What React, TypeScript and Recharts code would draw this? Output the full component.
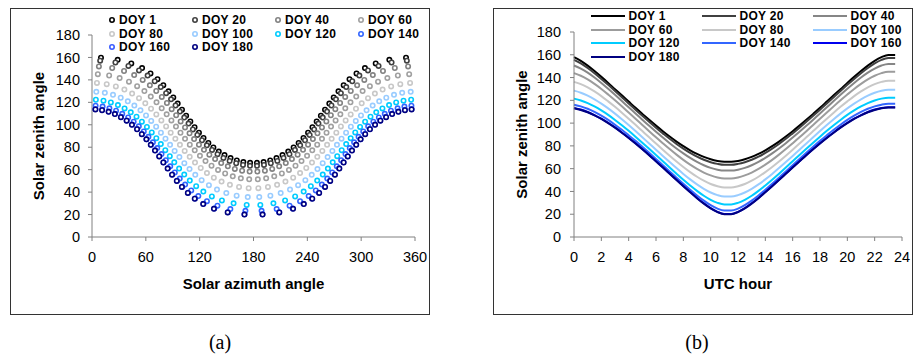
import React from "react";
import { ScatterChart, Scatter, LineChart, Line, XAxis, YAxis } from "recharts";

const doyLabels = ["DOY 1", "DOY 20", "DOY 40", "DOY 60", "DOY 80", "DOY 100", "DOY 120", "DOY 140", "DOY 160", "DOY 180"];

// half-hourly samples, UTC
const hours = [
  0, 0.5, 1, 1.5, 2, 2.5, 3, 3.5, 4, 4.5, 5, 5.5, 6, 6.5, 7, 7.5, 8, 8.5, 9, 9.5, 10, 10.5, 11, 11.5,
  12, 12.5, 13, 13.5, 14, 14.5, 15, 15.5, 16, 16.5, 17, 17.5, 18, 18.5, 19, 19.5, 20, 20.5, 21, 21.5, 22, 22.5, 23, 23.5,
];

// solar zenith angle (deg) per sample
const zenDoy1 = [
  157.9, 154.7, 150.5, 145.7, 140.6, 135.3, 129.8, 124.4, 118.9, 113.4, 108.1, 102.9, 97.8, 92.9, 88.2, 83.8, 79.8, 76.1, 73.0, 70.3, 68.2, 66.8, 66.1,
  66.1, 66.8, 68.2, 70.3, 73.0, 76.1, 79.8, 83.8, 88.2, 92.9, 97.8, 102.9, 108.1, 113.4, 118.9, 124.4, 129.8, 135.3, 140.6, 145.7, 150.5, 154.7, 157.9, 159.8, 159.8,
];
const zenDoy20 = [
  155.5, 152.4, 148.4, 143.8, 138.8, 133.6, 128.2, 122.7, 117.2, 111.8, 106.4, 101.1, 95.9, 91.0, 86.2, 81.7, 77.6, 73.8, 70.5, 67.8, 65.7, 64.2, 63.4,
  63.4, 64.2, 65.7, 67.8, 70.5, 73.8, 77.6, 81.7, 86.2, 91.0, 95.9, 101.1, 106.4, 111.8, 117.2, 122.7, 128.2, 133.6, 138.8, 143.8, 148.4, 152.4, 155.5, 157.1, 157.1,
];
const zenDoy40 = [
  150.6, 147.9, 144.3, 140.0, 135.2, 130.1, 124.8, 119.4, 113.9, 108.5, 103.0, 97.6, 92.4, 87.3, 82.3, 77.7, 73.4, 69.4, 65.9, 63.0, 60.7, 59.1, 58.3,
  58.3, 59.1, 60.7, 63.0, 65.9, 69.4, 73.4, 77.7, 82.3, 87.3, 92.4, 97.6, 103.0, 108.5, 113.9, 119.4, 124.8, 130.1, 135.2, 140.0, 144.3, 147.9, 150.6, 152.0, 152.0,
];
const zenDoy60 = [
  143.9, 141.6, 138.4, 134.4, 130.0, 125.1, 120.0, 114.7, 109.3, 103.9, 98.4, 92.9, 87.5, 82.3, 77.2, 72.3, 67.7, 63.5, 59.8, 56.6, 54.1, 52.3, 51.4,
  51.4, 52.3, 54.1, 56.6, 59.8, 63.5, 67.7, 72.3, 77.2, 82.3, 87.5, 92.9, 98.4, 103.9, 109.3, 114.7, 120.0, 125.1, 130.0, 134.4, 138.4, 141.6, 143.9, 145.1, 145.1,
];
const zenDoy80 = [
  136.2, 134.2, 131.4, 127.8, 123.7, 119.1, 114.3, 109.2, 103.9, 98.5, 93.0, 87.5, 82.1, 76.7, 71.4, 66.3, 61.5, 57.0, 52.9, 49.4, 46.5, 44.6, 43.5,
  43.5, 44.6, 46.5, 49.4, 52.9, 57.0, 61.5, 66.3, 71.4, 76.7, 82.1, 87.5, 93.0, 98.5, 103.9, 109.2, 114.3, 119.1, 123.7, 127.8, 131.4, 134.2, 136.2, 137.3, 137.3,
];
const zenDoy100 = [
  128.5, 126.7, 124.1, 120.9, 117.1, 112.9, 108.3, 103.4, 98.3, 93.0, 87.6, 82.1, 76.7, 71.2, 65.8, 60.5, 55.4, 50.6, 46.2, 42.3, 39.1, 36.8, 35.6,
  35.6, 36.8, 39.1, 42.3, 46.2, 50.6, 55.4, 60.5, 65.8, 71.2, 76.7, 82.1, 87.6, 93.0, 98.3, 103.4, 108.3, 112.9, 117.1, 120.9, 124.1, 126.7, 128.5, 129.4, 129.4,
];
const zenDoy120 = [
  121.5, 119.9, 117.6, 114.6, 111.1, 107.2, 102.8, 98.1, 93.2, 88.1, 82.8, 77.4, 72.0, 66.5, 61.0, 55.6, 50.3, 45.3, 40.5, 36.2, 32.6, 30.0, 28.6,
  28.6, 30.0, 32.6, 36.2, 40.5, 45.3, 50.3, 55.6, 61.0, 66.5, 72.0, 77.4, 82.8, 88.1, 93.2, 98.1, 102.8, 107.2, 111.1, 114.6, 117.6, 119.9, 121.5, 122.3, 122.3,
];
const zenDoy140 = [
  116.2, 114.7, 112.6, 109.8, 106.5, 102.8, 98.6, 94.1, 89.3, 84.4, 79.2, 73.9, 68.5, 63.0, 57.5, 52.1, 46.7, 41.5, 36.5, 31.9, 27.9, 24.9, 23.3,
  23.3, 24.9, 27.9, 31.9, 36.5, 41.5, 46.7, 52.1, 57.5, 63.0, 68.5, 73.9, 79.2, 84.4, 89.3, 94.1, 98.6, 102.8, 106.5, 109.8, 112.6, 114.7, 116.2, 117.0, 117.0,
];
const zenDoy160 = [
  113.3, 111.9, 109.8, 107.1, 103.9, 100.3, 96.2, 91.8, 87.2, 82.3, 77.2, 72.0, 66.6, 61.2, 55.7, 50.2, 44.8, 39.5, 34.3, 29.6, 25.4, 22.1, 20.3,
  20.3, 22.1, 25.4, 29.6, 34.3, 39.5, 44.8, 50.2, 55.7, 61.2, 66.6, 72.0, 77.2, 82.3, 87.2, 91.8, 96.2, 100.3, 103.9, 107.1, 109.8, 111.9, 113.3, 114.0, 114.0,
];
const zenDoy180 = [
  113.0, 111.5, 109.5, 106.8, 103.7, 100.0, 96.0, 91.6, 87.0, 82.1, 77.0, 71.8, 66.4, 61.0, 55.5, 50.0, 44.6, 39.3, 34.1, 29.3, 25.1, 21.9, 20.0,
  20.0, 21.9, 25.1, 29.3, 34.1, 39.3, 44.6, 50.0, 55.5, 61.0, 66.4, 71.8, 77.0, 82.1, 87.0, 91.6, 96.0, 100.0, 103.7, 106.8, 109.5, 111.5, 113.0, 113.7, 113.7,
];

// solar azimuth angle (deg from north) per sample
const aziDoy1 = [
  28.6, 43.8, 55.8, 65.2, 73.0, 79.5, 85.3, 90.6, 95.5, 100.3, 104.9, 109.6, 114.3, 119.2, 124.3, 129.7, 135.3, 141.3, 147.7, 154.4, 161.4, 168.7, 176.2,
  183.8, 191.3, 198.6, 205.6, 212.3, 218.7, 224.7, 230.3, 235.7, 240.8, 245.7, 250.4, 255.1, 259.7, 264.5, 269.4, 274.7, 280.5, 287.0, 294.8, 304.2, 316.2, 331.4, 350.0, 10.0,
];
const aziDoy20 = [
  26.1, 40.6, 52.4, 62.0, 69.9, 76.6, 82.6, 88.1, 93.1, 98.0, 102.8, 107.6, 112.4, 117.4, 122.6, 128.0, 133.8, 139.9, 146.5, 153.4, 160.7, 168.3, 176.1,
  183.9, 191.7, 199.3, 206.6, 213.5, 220.1, 226.2, 232.0, 237.4, 242.6, 247.6, 252.4, 257.2, 262.0, 266.9, 271.9, 277.4, 283.4, 290.1, 298.0, 307.6, 319.4, 333.9, 350.9, 9.1,
];
const aziDoy40 = [
  22.5, 35.7, 47.0, 56.5, 64.5, 71.6, 77.8, 83.5, 88.8, 93.8, 98.8, 103.7, 108.7, 113.8, 119.2, 124.8, 130.8, 137.2, 144.0, 151.4, 159.2, 167.3, 175.7,
  184.3, 192.7, 200.8, 208.6, 216.0, 222.8, 229.2, 235.2, 240.8, 246.2, 251.3, 256.3, 261.2, 266.2, 271.2, 276.5, 282.2, 288.4, 295.5, 303.5, 313.0, 324.3, 337.5, 352.3, 7.7,
];
const aziDoy60 = [
  19.1, 30.8, 41.2, 50.3, 58.4, 65.5, 71.9, 77.7, 83.2, 88.5, 93.6, 98.6, 103.7, 109.0, 114.5, 120.3, 126.5, 133.2, 140.5, 148.4, 156.9, 165.9, 175.2,
  184.8, 194.1, 203.1, 211.6, 219.5, 226.8, 233.5, 239.7, 245.5, 251.0, 256.3, 261.4, 266.4, 271.5, 276.8, 282.3, 288.1, 294.5, 301.6, 309.7, 318.8, 329.2, 340.9, 353.5, 6.5,
];
const aziDoy80 = [
  16.4, 26.6, 36.1, 44.7, 52.4, 59.4, 65.8, 71.7, 77.3, 82.6, 87.7, 92.9, 98.0, 103.3, 108.9, 114.8, 121.2, 128.1, 135.8, 144.4, 153.7, 163.9, 174.6,
  185.4, 196.1, 206.3, 215.6, 224.2, 231.9, 238.8, 245.2, 251.1, 256.7, 262.0, 267.1, 272.3, 277.4, 282.7, 288.3, 294.2, 300.6, 307.6, 315.3, 323.9, 333.4, 343.6, 354.5, 5.5,
];
const aziDoy100 = [
  14.3, 23.4, 32.0, 39.9, 47.2, 54.0, 60.2, 66.0, 71.5, 76.8, 81.9, 87.0, 92.1, 97.4, 102.9, 108.7, 115.1, 122.2, 130.3, 139.3, 149.7, 161.2, 173.6,
  186.4, 198.8, 210.3, 220.7, 229.7, 237.8, 244.9, 251.3, 257.1, 262.6, 267.9, 273.0, 278.1, 283.2, 288.5, 294.0, 299.8, 306.0, 312.8, 320.1, 328.0, 336.6, 345.7, 355.2, 4.8,
];
const aziDoy120 = [
  12.8, 21.0, 28.9, 36.3, 43.2, 49.6, 55.6, 61.2, 66.6, 71.7, 76.7, 81.7, 86.7, 91.7, 97.1, 102.8, 109.0, 116.1, 124.1, 133.6, 144.8, 157.8, 172.4,
  187.6, 202.2, 215.2, 226.4, 235.9, 243.9, 251.0, 257.2, 262.9, 268.3, 273.3, 278.3, 283.3, 288.3, 293.4, 298.8, 304.4, 310.4, 316.8, 323.7, 331.1, 339.0, 347.2, 355.7, 4.3,
];
const aziDoy140 = [
  11.8, 19.4, 26.8, 33.7, 40.3, 46.4, 52.2, 57.7, 62.9, 67.9, 72.7, 77.5, 82.3, 87.2, 92.3, 97.8, 103.8, 110.6, 118.5, 128.1, 139.8, 154.2, 171.0,
  189.0, 205.8, 220.2, 231.9, 241.5, 249.4, 256.2, 262.2, 267.7, 272.8, 277.7, 282.5, 287.3, 292.1, 297.1, 302.3, 307.8, 313.6, 319.7, 326.3, 333.2, 340.6, 348.2, 356.0, 4.0,
];
const aziDoy160 = [
  11.3, 18.6, 25.6, 32.4, 38.7, 44.7, 50.4, 55.7, 60.8, 65.7, 70.5, 75.1, 79.8, 84.6, 89.5, 94.8, 100.6, 107.1, 114.9, 124.3, 136.3, 151.5, 170.0,
  190.0, 208.5, 223.7, 235.7, 245.1, 252.9, 259.4, 265.2, 270.5, 275.4, 280.2, 284.9, 289.5, 294.3, 299.2, 304.3, 309.6, 315.3, 321.3, 327.6, 334.4, 341.4, 348.7, 356.2, 3.8,
];
const aziDoy180 = [
  11.2, 18.5, 25.5, 32.2, 38.6, 44.5, 50.2, 55.5, 60.6, 65.5, 70.2, 74.9, 79.5, 84.3, 89.2, 94.5, 100.2, 106.8, 114.5, 123.9, 135.9, 151.2, 169.9,
  190.1, 208.8, 224.1, 236.1, 245.5, 253.2, 259.8, 265.5, 270.8, 275.7, 280.5, 285.1, 289.8, 294.5, 299.4, 304.5, 309.8, 315.5, 321.4, 327.8, 334.5, 341.5, 348.8, 356.2, 3.8,
];

const azimuthTicks = [0, 60, 120, 180, 240, 300, 360];
const hourTicks = [0, 2, 4, 6, 8, 10, 12, 14, 16, 18, 20, 22, 24];
const zenithTicks = [0, 20, 40, 60, 80, 100, 120, 140, 160, 180];

const zenSeries = [zenDoy1, zenDoy20, zenDoy40, zenDoy60, zenDoy80, zenDoy100, zenDoy120, zenDoy140, zenDoy160, zenDoy180];
const aziSeries = [aziDoy1, aziDoy20, aziDoy40, aziDoy60, aziDoy80, aziDoy100, aziDoy120, aziDoy140, aziDoy160, aziDoy180];

const dotColors = ["#000000", "#404040", "#828282", "#a0a0a0", "#c8c8c8", "#99ccff", "#00ccff", "#3366ff", "#3a5cff", "#000080"];
const lineColors = ["#000000", "#404040", "#868686", "#9c9c9c", "#c8c8c8", "#99ccff", "#00ccff", "#3366ff", "#0000ee", "#000080"];

const FONT = "Arial, 'Liberation Sans', Helvetica, sans-serif";

const scatterData = zenSeries.map((zs, i) => zs.map((z, j) => ({ azimuth: aziSeries[i][j], zenith: z })));

const lineData = hours.map((h, j) => {
  const row: Record<string, number> = { hour: h };
  zenSeries.forEach((zs, i) => {
    row[`s${i}`] = zs[j];
  });
  return row;
});

const tickStyle = { fill: "#000", fontSize: 14.5, fontFamily: FONT };
const titleProps = { fill: "#000", fontSize: 15, fontWeight: 700, fontFamily: FONT };
const legendText = { marginLeft: 3.5, font: `bold 12px ${FONT}`, color: "#000", lineHeight: "12px", letterSpacing: 0.3 };

function Ring({ cx, cy, color }: { cx: number; cy: number; color: string }) {
  return <circle cx={cx} cy={cy} r={2.2} fill="#ffffff" stroke={color} strokeWidth={1.6} />;
}

export default function App() {
  return (
    <div style={{ position: "absolute", left: 0, top: 0, width: 921, height: 360, background: "#fff", overflow: "hidden" }}>
      {/* frames */}
      <div style={{ position: "absolute", left: 10, top: 8, width: 420, height: 307, border: "1px solid #333", boxSizing: "border-box" }} />
      <div style={{ position: "absolute", left: 493, top: 8, width: 420, height: 307, border: "1px solid #333", boxSizing: "border-box" }} />

      {/* (a) zenith vs azimuth */}
      <div style={{ position: "absolute", left: 10, top: 8 }}>
        <ScatterChart width={420} height={306} margin={{ top: 27, right: 15, bottom: 17, left: 14 }}>
          <XAxis
            type="number"
            dataKey="azimuth"
            domain={[0, 360]}
            ticks={azimuthTicks}
            height={60}
            stroke="#808080"
            tickSize={4}
            tickMargin={11}
            tick={tickStyle}
            label={{ value: "Solar azimuth angle", position: "insideBottom", offset: 8, ...titleProps }}
          />
          <YAxis
            type="number"
            dataKey="zenith"
            domain={[0, 180]}
            ticks={zenithTicks}
            width={68}
            stroke="#808080"
            tickSize={4}
            tickMargin={8}
            tick={tickStyle}
            label={{
              value: "Solar zenith angle",
              angle: -90,
              position: "insideLeft",
              offset: 15,
              style: { textAnchor: "middle" },
              ...titleProps,
            }}
          />
          {scatterData.map((pts, i) => (
            <Scatter
              key={doyLabels[i]}
              name={doyLabels[i]}
              data={pts}
              fill={dotColors[i]}
              isAnimationActive={false}
              shape={(p: any) => <Ring cx={p.cx} cy={p.cy} color={dotColors[i]} />}
            />
          ))}
        </ScatterChart>
      </div>

      {/* (a) legend */}
      {doyLabels.map((label, i) => {
        const col = i % 4;
        const row = Math.floor(i / 4);
        const x = 111.5 + col * 83;
        const y = 20 + row * 13.6;
        return (
          <div
            key={label}
            style={{ position: "absolute", left: x - 4, top: y - 6, height: 12, display: "flex", alignItems: "center", whiteSpace: "nowrap" }}
          >
            <svg width={8} height={8} style={{ display: "block" }}>
              <Ring cx={4} cy={4} color={dotColors[i]} />
            </svg>
            <span style={legendText}>{label}</span>
          </div>
        );
      })}

      {/* (b) zenith vs UTC hour */}
      <div style={{ position: "absolute", left: 493, top: 8 }}>
        <LineChart width={420} height={306} data={lineData} margin={{ top: 24, right: 11, bottom: 17, left: 14 }}>
          <XAxis
            type="number"
            dataKey="hour"
            domain={[0, 24]}
            ticks={hourTicks}
            height={60}
            stroke="#808080"
            tickSize={4}
            tickMargin={11}
            tick={tickStyle}
            label={{ value: "UTC hour", position: "insideBottom", offset: 8, ...titleProps }}
          />
          <YAxis
            type="number"
            domain={[0, 180]}
            ticks={zenithTicks}
            width={67}
            stroke="#808080"
            tickSize={4}
            tickMargin={9}
            tick={tickStyle}
            label={{
              value: "Solar zenith angle",
              angle: -90,
              position: "insideLeft",
              offset: 15,
              style: { textAnchor: "middle" },
              ...titleProps,
            }}
          />
          {doyLabels.map((label, i) => (
            <Line
              key={label}
              name={label}
              dataKey={`s${i}`}
              type="monotone"
              stroke={lineColors[i]}
              strokeWidth={2}
              dot={false}
              isAnimationActive={false}
            />
          ))}
        </LineChart>
      </div>

      {/* (b) legend */}
      {doyLabels.map((label, i) => {
        const col = i % 3;
        const row = Math.floor(i / 3);
        const x = 591 + col * 111;
        const y = 16 + row * 13.6;
        return (
          <div
            key={label}
            style={{ position: "absolute", left: x, top: y - 6, height: 12, display: "flex", alignItems: "center", whiteSpace: "nowrap" }}
          >
            <div style={{ width: 34, height: 2, background: lineColors[i] }} />
            <span style={legendText}>{label}</span>
          </div>
        );
      })}

      {/* captions */}
      <div style={{ position: "absolute", left: 170, top: 331, width: 100, textAlign: "center", font: "20px 'Liberation Serif', 'DejaVu Serif', serif", color: "#000" }}>
        (a)
      </div>
      <div style={{ position: "absolute", left: 647, top: 331, width: 100, textAlign: "center", font: "20px 'Liberation Serif', 'DejaVu Serif', serif", color: "#000" }}>
        (b)
      </div>
    </div>
  );
}
